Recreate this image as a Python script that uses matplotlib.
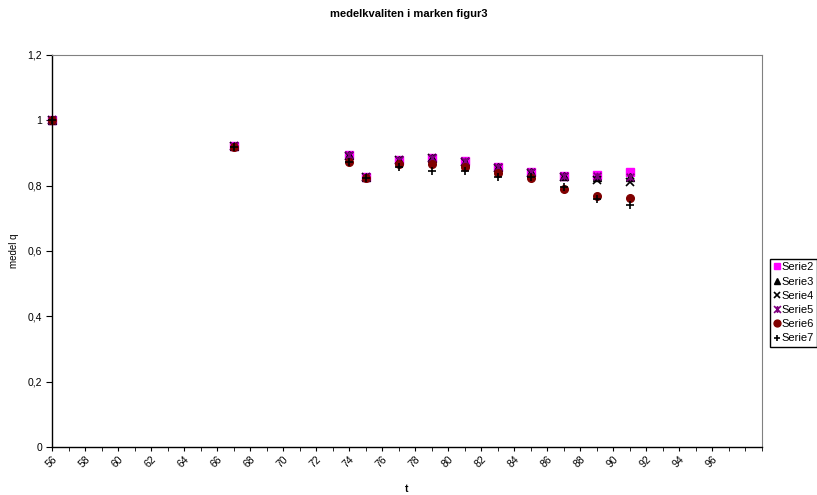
#!/usr/bin/env python3

import matplotlib.pyplot as plt
from matplotlib.path import Path
from matplotlib.ticker import FixedLocator, MultipleLocator, FuncFormatter

t = [56, 67, 74, 75, 77, 79, 81, 83, 85, 87, 89, 91]

serie2 = [1.0, 0.92, 0.895, 0.826, 0.880, 0.886, 0.874, 0.858, 0.843, 0.831, 0.834, 0.842]
serie3 = [1.0, 0.92, 0.893, 0.826, 0.879, 0.885, 0.873, 0.857, 0.842, 0.829, 0.828, 0.828]
serie4 = [1.0, 0.92, 0.892, 0.826, 0.878, 0.884, 0.872, 0.855, 0.840, 0.826, 0.817, 0.811]
serie5 = [1.0, 0.92, 0.895, 0.826, 0.879, 0.886, 0.874, 0.857, 0.842, 0.830, 0.831, 0.827]
serie6 = [1.0, 0.918, 0.873, 0.825, 0.866, 0.866, 0.857, 0.838, 0.822, 0.789, 0.769, 0.763]
serie7 = [1.0, 0.918, 0.872, 0.825, 0.858, 0.845, 0.845, 0.828, 0.826, 0.796, 0.758, 0.741]

x_labels = list(range(56, 97, 2))

# excel style star: an x with a vertical bar through it
star = Path(
    [(-1, -1), (1, 1), (-1, 1), (1, -1), (0, -1), (0, 1)],
    [Path.MOVETO, Path.LINETO, Path.MOVETO, Path.LINETO, Path.MOVETO, Path.LINETO],
)

styles = [
    ("Serie2", serie2, "s", "#ff00ff"),
    ("Serie3", serie3, "^", "black"),
    ("Serie4", serie4, "x", "black"),
    ("Serie5", serie5, star, "#800080"),
    ("Serie6", serie6, "o", "#800000"),
    ("Serie7", serie7, "+", "black"),
]


def main():
    plt.rcParams["font.family"] = ["Liberation Sans", "DejaVu Sans"]
    dpi = 100
    fig = plt.figure(figsize=(817 / dpi, 495 / dpi), dpi=dpi)
    ax = fig.add_axes([52 / 817, 1 - 447 / 495, 710 / 817, 392 / 495])

    for name, ys, marker, color in styles:
        kw = dict(markersize=5.5, linestyle="none", label=name, clip_on=False)
        if isinstance(marker, Path) or marker in ("x", "+"):
            ax.plot(t, ys, marker=marker, color=color, markeredgewidth=1.2, **kw)
        else:
            ax.plot(t, ys, marker=marker, color=color, markeredgecolor=color, **kw)

    ax.set_xlim(56, 99)
    ax.set_ylim(0, 1.2)
    ax.xaxis.set_major_locator(FixedLocator(x_labels))
    ax.xaxis.set_minor_locator(MultipleLocator(1))
    ax.yaxis.set_major_locator(MultipleLocator(0.2))
    ax.yaxis.set_major_formatter(
        FuncFormatter(lambda v, p: f"{v:.1f}".replace(".", ",").replace(",0", ""))
    )
    ax.tick_params(axis="y", direction="out", length=4, labelsize=7.5, pad=3)
    ax.tick_params(axis="x", which="both", direction="out", length=3, labelsize=7.5, pad=2)
    for lbl in ax.get_xticklabels():
        lbl.set_rotation(45)
        lbl.set_ha("right")
        lbl.set_rotation_mode("anchor")

    for side in ("top", "right"):
        ax.spines[side].set_color("#808080")
    for side in ("left", "bottom"):
        ax.spines[side].set_linewidth(1.0)

    ax.set_ylabel("medel q", fontsize=7)
    ax.yaxis.set_label_coords(-0.047, 0.5)
    ax.set_xlabel("t", fontsize=7.5, fontweight="bold")
    ax.xaxis.set_label_coords(0.5, -0.095)
    fig.suptitle("medelkvaliten i marken figur3", fontsize=8, fontweight="bold",
                 y=1 - 14 / 495, va="center")

    ax.legend(loc="upper left", bbox_to_anchor=(770 / 817, 1 - 259 / 495),
              bbox_transform=fig.transFigure, fontsize=8, frameon=True,
              fancybox=False, edgecolor="black", framealpha=1,
              handlelength=0.6, handletextpad=0.1, borderpad=0.3,
              labelspacing=0.38, borderaxespad=0, markerscale=0.9)

    fig.savefig("out.png", dpi=dpi)


if __name__ == "__main__":
    main()
